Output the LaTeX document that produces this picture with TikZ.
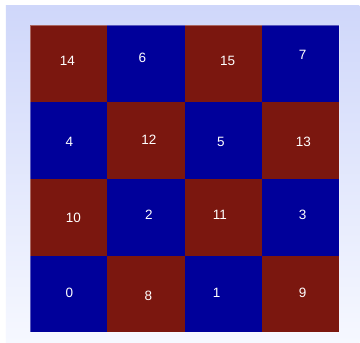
\documentclass[tikz,border=0pt]{standalone}
\usepackage{fontspec}
\setmainfont{Liberation Sans}
\definecolor{cellred}{RGB}{123,23,15}
\definecolor{cellblue}{RGB}{0,0,154}
\definecolor{bgtop}{RGB}{207,215,250}
\definecolor{bgbot}{RGB}{246,248,255}
\tikzset{
  cellr/.style={fill=cellred},
  cellb/.style={fill=cellblue},
  lbl/.style={text=white, font=\fontsize{13.5}{15}\selectfont, inner sep=0pt, anchor=center}
}
\begin{document}
\begin{tikzpicture}[x=1pt,y=-1pt]
\useasboundingbox (0,0) rectangle (360,343);
\fill[white] (0,0) rectangle (360,343);
\shade[top color=bgtop, bottom color=bgbot] (6,5) rectangle (359.5,342.7);
\path[cellr] (30.3,25) rectangle (107.3,101.7);
\path[cellb] (107.3,25) rectangle (185,101.7);
\path[cellr] (185,25) rectangle (262,101.7);
\path[cellb] (262,25) rectangle (339,101.7);
\path[cellb] (30.3,101.7) rectangle (107.3,179);
\path[cellr] (107.3,101.7) rectangle (185,179);
\path[cellb] (185,101.7) rectangle (262,179);
\path[cellr] (262,101.7) rectangle (339,179);
\path[cellr] (30.3,179) rectangle (107.3,256);
\path[cellb] (107.3,179) rectangle (185,256);
\path[cellr] (185,179) rectangle (262,256);
\path[cellb] (262,179) rectangle (339,256);
\path[cellb] (30.3,256) rectangle (107.3,332.3);
\path[cellr] (107.3,256) rectangle (185,332.3);
\path[cellb] (185,256) rectangle (262,332.3);
\path[cellr] (262,256) rectangle (339,332.3);
\draw[line width=0.6pt, draw=white, draw opacity=0.35] (30.3,25) rectangle (339,332.3);
\node[lbl] (n14) at (67.3,60.7) {14};
\node[lbl] (n6) at (142.3,57.7) {6};
\node[lbl] (n15) at (227.7,60.7) {15};
\node[lbl] (n7) at (302.7,55) {7};
\node[lbl] (n4) at (69.3,142.3) {4};
\node[lbl] (n12) at (149,139.3) {12};
\node[lbl] (n5) at (221,142.3) {5};
\node[lbl] (n13) at (303.3,142.3) {13};
\node[lbl] (n10) at (73.3,217.7) {10};
\node[lbl] (n2) at (149,215) {2};
\node[lbl] (n11) at (220,215) {11};
\node[lbl] (n3) at (302.7,215) {3};
\node[lbl] (n0) at (69.3,293.3) {0};
\node[lbl] (n8) at (148.3,296) {8};
\node[lbl] (n1) at (216.7,293.3) {1};
\node[lbl] (n9) at (302.7,293.3) {9};
\end{tikzpicture}
\end{document}
